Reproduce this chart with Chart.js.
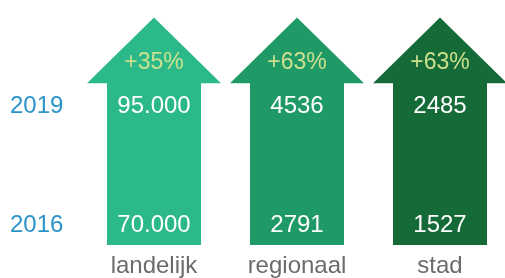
<!DOCTYPE html>
<html>
<head>
<meta charset="utf-8">
<style>
  html, body { margin: 0; padding: 0; background: #fff; }
  #wrap { width: 505px; height: 278px; }
</style>
<script src="https://cdn.jsdelivr.net/npm/chart.js@4"></script>
</head>
<body>
<div id="wrap"><canvas id="arrowChart"></canvas></div>
<script>
const categories = ['landelijk', 'regionaal', 'stad'];
const years = ['2016', '2019'];
const values2016 = [70000, 2791, 1527];
const values2019 = [95000, 4536, 2485];
const growthPct = [35, 63, 63];

const arrowColors = ['#2bb98a', '#1f9a67', '#156b37'];
const FONT = '"Liberation Sans", Arial, Helvetica, sans-serif';
const HEAD_BASE = 1.195;   // y value where the arrow head starts
const GROWTH_ROW = 1.37;   // y value of the percentage label
const HEAD_OVERHANG = 20;  // px the head sticks out past the shaft

// 4-digit numbers without separator, larger ones with a dot
function fmt(n) {
    if (n < 10000) return String(n);
    return String(n).replace(/\B(?=(\d{3})+(?!\d))/g, '.');
}

const arrowPlugin = {
    id: 'arrows',
    afterDatasetsDraw(chart) {
        const ctx = chart.ctx;
        const area = chart.chartArea;
        const y = chart.scales.y;
        const headY = y.getPixelForValue(HEAD_BASE);
        chart.getDatasetMeta(0).data.forEach((bar, i) => {
            const half = bar.width / 2;
            ctx.save();
            ctx.fillStyle = arrowColors[i];
            ctx.beginPath();
            ctx.moveTo(bar.x - half, area.bottom);
            ctx.lineTo(bar.x - half, headY);
            ctx.lineTo(bar.x - half - HEAD_OVERHANG, headY);
            ctx.lineTo(bar.x, area.top);
            ctx.lineTo(bar.x + half + HEAD_OVERHANG, headY);
            ctx.lineTo(bar.x + half, headY);
            ctx.lineTo(bar.x + half, area.bottom);
            ctx.closePath();
            ctx.fill();

            ctx.textAlign = 'center';
            ctx.textBaseline = 'middle';
            ctx.font = '24px ' + FONT;
            ctx.fillStyle = '#ffffff';
            ctx.fillText(fmt(values2016[i]), bar.x, y.getPixelForValue(0));
            ctx.fillText(fmt(values2019[i]), bar.x, y.getPixelForValue(1));

            ctx.font = '23px ' + FONT;
            ctx.fillStyle = '#cde08e';
            ctx.fillText('+' + growthPct[i] + '%', bar.x, y.getPixelForValue(GROWTH_ROW));
            ctx.restore();
        });
    }
};

const ctx = document.getElementById('arrowChart').getContext('2d');
new Chart(ctx, {
    type: 'bar',
    data: {
        labels: categories,
        datasets: [{
            // each arrow runs from the 2016 row to the 2019 row
            data: categories.map(() => [0, years.length - 1]),
            backgroundColor: 'rgba(0,0,0,0)',
            barThickness: 94
        }]
    },
    options: {
        responsive: true,
        maintainAspectRatio: false,
        animation: false,
        layout: { padding: { left: 10, right: 65, top: 14, bottom: 0 } },
        plugins: {
            legend: { display: false },
            tooltip: { enabled: false }
        },
        scales: {
            x: {
                offset: false,
                grid: { display: false, drawTicks: false },
                border: { display: false },
                ticks: {
                    color: '#6b6b6b',
                    font: { family: FONT, size: 24 },
                    padding: 7,
                    maxRotation: 0
                },
                afterFit: s => { s.height = 33; }
            },
            y: {
                min: -0.166,
                max: 1.75,
                grid: { display: false, drawTicks: false },
                border: { display: false },
                afterBuildTicks: s => { s.ticks = years.map((_, i) => ({ value: i })); },
                ticks: {
                    color: '#2a93c9',
                    font: { family: FONT, size: 24 },
                    crossAlign: 'far',
                    callback: v => years[v]
                },
                afterFit: s => { s.width = 144; }
            }
        }
    },
    plugins: [arrowPlugin]
});
</script>
</body>
</html>
